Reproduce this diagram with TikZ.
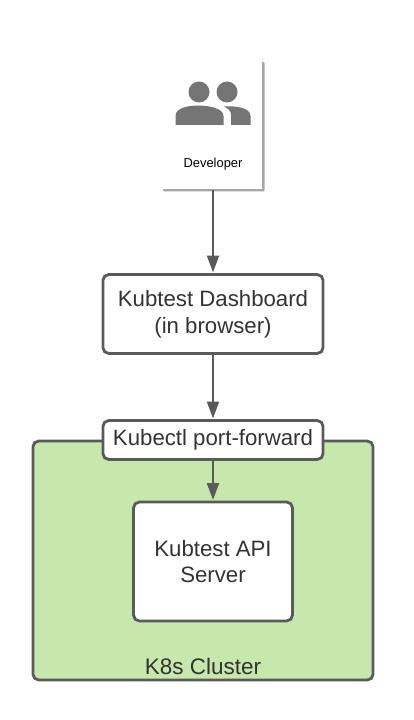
\documentclass[tikz,border=0pt]{standalone}
\usepackage{fontspec}
\setmainfont{Liberation Sans}
\usetikzlibrary{calc,arrows.meta,positioning}
\definecolor{linegray}{RGB}{90,90,90}
\definecolor{icongray}{RGB}{117,117,117}
\definecolor{clustergreen}{RGB}{198,232,172}
\tikzset{
  box/.style={draw=linegray,line width=0.07cm,rounded corners=0.14cm,fill=white,align=center,text=black!80,font=\fontsize{15.8}{19}\selectfont,inner sep=0},
  flow/.style={draw=linegray,line width=0.045cm,-{Triangle[width=0.3cm,length=0.42cm]},shorten >=0.02cm},
}
\begin{document}
\begin{tikzpicture}[x=0.025cm,y=-0.025cm]
    \useasboundingbox (0,0) rectangle (413,720);
    % cluster
    \node[box,fill=clustergreen,minimum width=8.5cm,minimum height=5.97cm] (cluster) at (203,560.5) {};
    \node[anchor=base,text=black!80,font=\fontsize{16}{19}\selectfont] (clusterlabel) at (203,674) {K8s Cluster};
    % developer card
    \fill[black!35,rounded corners=0.03cm] (163,62) rectangle (264.5,191.5);
    \fill[white] (163,60) rectangle (262,189);
    \coordinate (card) at (213,190);
    \fill[icongray] (199,92) circle (10.5) (227,92) circle (10.5);
    \fill[icongray] (175.5,125) -- (175.5,116) .. controls (175.5,108) and (188,105.5) .. (198,105.5)
      .. controls (208,105.5) and (223.5,108) .. (223.5,116) -- (223.5,125) -- cycle;
    \fill[icongray] (231,125) -- (231,115) .. controls (231,111) and (229,109) .. (224,106.5)
      .. controls (236,105.5) and (250.5,108) .. (250.5,116) -- (250.5,125) -- cycle;
    \node[font=\fontsize{9.2}{11}\selectfont,text=black] (developer) at (213,164.5) {Developer};
    % boxes
    \node[box,minimum width=5.5cm,minimum height=1.97cm] (dashboard) at (213,314) {Kubtest Dashboard\\(in browser)};
    \node[box,minimum width=5.5cm,minimum height=0.97cm] (forward) at (213,440) {Kubectl port-forward};
    \node[box,minimum width=3.97cm,minimum height=2.97cm] (api) at (213,561.5) {Kubtest API\\Server};
    % arrows
    \draw[flow] (card) -- (dashboard);
    \draw[flow] (dashboard) -- (forward);
    \draw[flow] (forward) -- (api);
\end{tikzpicture}
\end{document}
